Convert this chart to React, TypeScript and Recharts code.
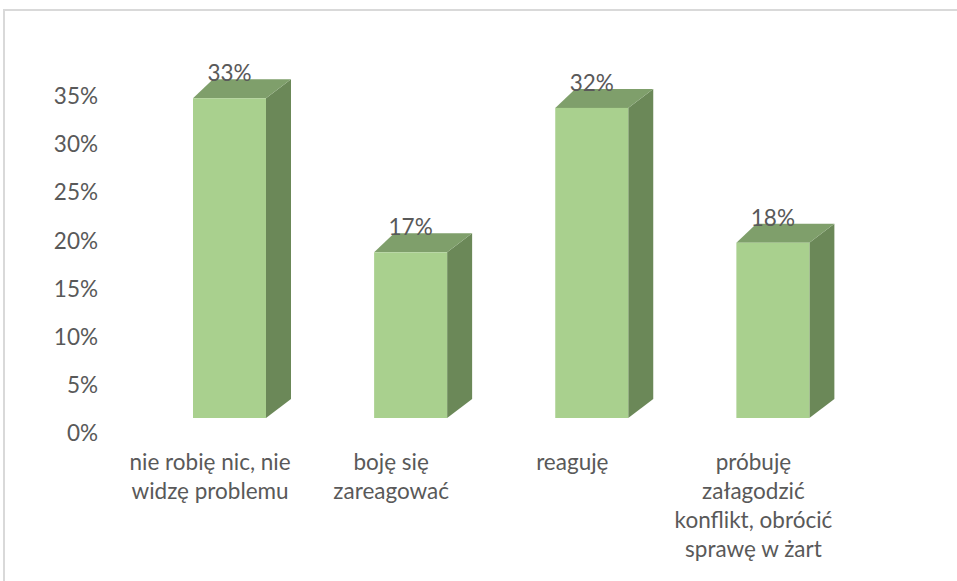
import React from 'react';
import { BarChart, Bar, XAxis, YAxis } from 'recharts';

const categories = [
  'nie robię nic, nie\nwidzę problemu',
  'boję się\nzareagować',
  'reaguję',
  'próbuję\nzałagodzić\nkonflikt, obrócić\nsprawę w żart',
];
const values = [0.33, 0.17, 0.32, 0.18];
const valueLabels = ['33%', '17%', '32%', '18%'];
const yTicks = [0, 0.05, 0.1, 0.15, 0.2, 0.25, 0.3, 0.35];

const data = categories.map((name, i) => ({ name, value: values[i], label: valueLabels[i] }));

const FONT = "Lato, 'Noto Sans', sans-serif";
const TEXT = '#595959';
const FRONT = '#A9D08E';
const TOP = '#7F9F6B';
const SIDE = '#6B8858';

const Bar3D = (props: any) => {
  const { x, y, width, height, payload } = props;
  const baseY = y + height;
  const fx = x + 19.5;
  const top = y - 17;
  const bottom = baseY - 15;
  const dxL = 20;
  const dxR = 25;
  const dy = 19;
  const r = fx + width;
  return (
    <g>
      <polygon
        points={`${r},${bottom} ${r + dxR},${bottom - dy} ${r + dxR},${top - dy} ${r},${top}`}
        fill={SIDE}
      />
      <polygon
        points={`${fx},${top} ${fx + dxL},${top - dy} ${r + dxR},${top - dy} ${r},${top}`}
        fill={TOP}
      />
      <rect x={fx} y={top} width={width} height={bottom - top} fill={FRONT} />
      <text
        x={fx + width / 2}
        y={top - 17}
        textAnchor="middle"
        fontFamily={FONT}
        fontSize={22.5}
        fill={TEXT}
      >
        {payload.label}
      </text>
    </g>
  );
};

const YTick = (props: any) => {
  const { x, y, payload } = props;
  return (
    <text x={x} y={y} dy="0.36em" textAnchor="end" fontFamily={FONT} fontSize={22.5} fill={TEXT}>
      {`${Math.round(payload.value * 100)}%`}
    </text>
  );
};

const XTick = (props: any) => {
  const { x, y, payload } = props;
  const lines = String(payload.value).split('\n');
  return (
    <text x={x} y={y} textAnchor="middle" fontFamily={FONT} fontSize={22.5} fill={TEXT}>
      {lines.map((l, i) => (
        <tspan key={i} x={x} dy={i === 0 ? '0.71em' : 29}>
          {l}
        </tspan>
      ))}
    </text>
  );
};

export default function App() {
  return (
    <div style={{ position: 'relative', width: 957, height: 581, overflow: 'hidden', background: '#fff' }}>
      <style>{`body{margin:0;overflow:hidden;background:#fff}`}</style>
      <div
        style={{
          position: 'absolute',
          left: 3,
          top: 9,
          width: 960,
          height: 580,
          borderLeft: '2px solid #D9D9D9',
          borderTop: '2px solid #D9D9D9',
          boxSizing: 'border-box',
        }}
      />
      <div style={{ position: 'absolute', left: 0, top: 0 }}>
        <BarChart
          width={957}
          height={581}
          data={data}
          margin={{ top: 96, right: 113, bottom: 8, left: 19.5 }}
          barSize={73}
        >
          <YAxis
            type="number"
            domain={[0, 0.35]}
            ticks={yTicks}
            width={100}
            axisLine={false}
            tickLine={false}
            tickSize={0}
            tickMargin={21.5}
            tick={<YTick />}
            interval={0}
          />
          <XAxis
            dataKey="name"
            height={140}
            axisLine={false}
            tickLine={false}
            tickSize={0}
            tickMargin={21}
            tick={<XTick />}
            interval={0}
          />
          <Bar dataKey="value" shape={<Bar3D />} isAnimationActive={false} />
        </BarChart>
      </div>
    </div>
  );
}
